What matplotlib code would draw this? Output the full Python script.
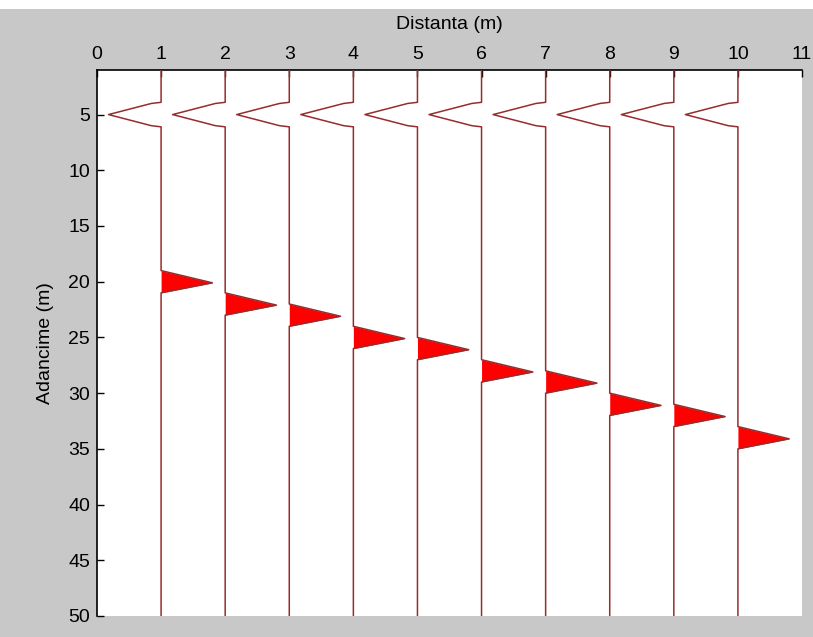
import numpy as np
import matplotlib
matplotlib.use('Agg')
import matplotlib.pyplot as plt

# receiver offsets (m) and depth of the reflected arrival on each trace
offsets = [1, 2, 3, 4, 5, 6, 7, 8, 9, 10]
reflect_depth = [20, 22, 23, 25, 26, 28, 29, 31, 32, 34]

# direct arrival wavelet (depth offset from 5 m, amplitude)
direct_dz = [-1.1, -1.0, 0.0, 1.0, 1.1]
direct_amp = [0.0, -0.15, -0.82, -0.15, 0.0]
direct_center = 5.0

# reflected wavelet (depth offset from pick, amplitude)
refl_dz = [-1.0, 0.1, 1.0]
refl_amp = [0.0, 0.8, 0.0]

depth_top = 1.0
depth_bot = 50.0

trace_col = '#962d2d'
gray = '#c8c8c8'

plt.rcParams['font.family'] = ['Liberation Sans', 'DejaVu Sans']

fig = plt.figure(figsize=(8.13, 6.37), dpi=100, facecolor=gray)
# white strip along the top edge of the window
fig.patches.append(plt.Rectangle((0, 1 - 9/637.), 1, 9/637., transform=fig.transFigure,
                                 facecolor='white', edgecolor='none', zorder=0))
ax = fig.add_axes([97/813., 21/637., 705/813., 546/637.])
ax.set_facecolor('white')

for x0, d in zip(offsets, reflect_depth):
  dd = [depth_top]
  aa = [0.0]
  for dz, a in zip(direct_dz, direct_amp):
    dd.append(direct_center + dz)
    aa.append(a)
  for dz, a in zip(refl_dz, refl_amp):
    dd.append(d + dz)
    aa.append(a)
  dd.append(depth_bot)
  aa.append(0.0)
  xs = x0 + np.array(aa)
  ax.plot(xs, dd, color=trace_col, lw=1.1, zorder=3)
  # fill the positive lobe of the reflection
  fd = [d + dz for dz in refl_dz]
  fx = [x0 + a for a in refl_amp]
  ax.fill_betweenx(fd, x0, fx, color='red', lw=0, zorder=2)

ax.set_xlim(0, 11)
ax.set_ylim(depth_bot, depth_top)
ax.xaxis.tick_top()
ax.xaxis.set_label_position('top')
ax.set_xticks(range(0, 12))
ax.set_yticks(range(5, 51, 5))
ax.tick_params(direction='in', length=5, width=1, labelsize=14, pad=5, colors='black')
ax.spines['right'].set_visible(False)
ax.spines['bottom'].set_visible(False)
ax.spines['left'].set_linewidth(1.2)
ax.spines['top'].set_linewidth(1.2)
ax.set_xlabel('Distanta (m)', fontsize=14, labelpad=12)
ax.set_ylabel('Adancime (m)', fontsize=14, labelpad=10)

fig.savefig('out.png', dpi=100, facecolor=gray)
